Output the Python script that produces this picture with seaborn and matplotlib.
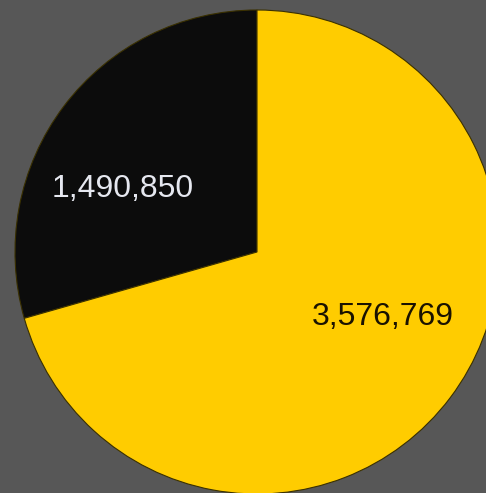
import matplotlib
matplotlib.use("Agg")
import matplotlib.pyplot as plt
import seaborn as sns

# slice values, drawn counterclockwise from the top
labels = ["1,490,850", "3,576,769"]
values = [1490850, 3576769]
colors = ["#0c0c0c", "#ffcc00"]
text_colors = ["#e6e8f0", "#1a1200"]

sns.set_style("white")
plt.rcParams['font.family'] = ['Liberation Sans', 'DejaVu Sans']

fig = plt.figure(figsize=(4.86, 4.93), dpi=100)
fig.patch.set_facecolor("#575757")
ax = fig.add_axes([0, 0, 1, 1])
ax.set_facecolor("#575757")

wedges, texts = ax.pie(values, colors=colors, startangle=90, counterclock=True,
                       labels=labels, labeldistance=0.6,
                       wedgeprops=dict(edgecolor="#3a3000", linewidth=0.8))

# label placement as in the original chart
label_pos = [(-0.556, 0.262), (0.521, -0.27)]
for t, pos, c in zip(texts, label_pos, text_colors):
    t.set_position(pos)
    t.set_ha("center")
    t.set_va("center")
    t.set_color(c)
    t.set_fontsize(23)

ax.set_xlim(-257 / 242, (486 - 257) / 242)
ax.set_ylim(-(493 - 252) / 242, 252 / 242)
ax.set_aspect("equal")
ax.axis("off")

fig.savefig("out.png", dpi=100, facecolor=fig.get_facecolor())
